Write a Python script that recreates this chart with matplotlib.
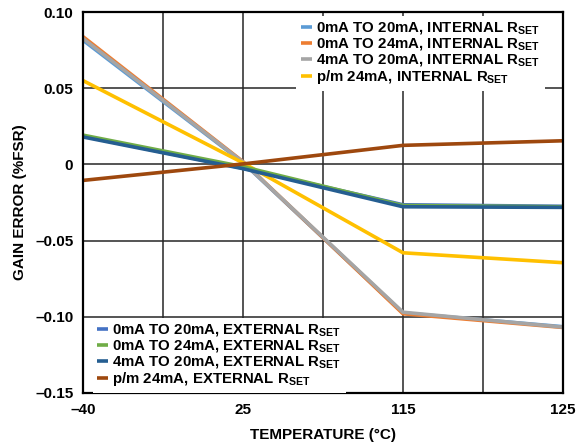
import matplotlib
matplotlib.use("Agg")
import matplotlib.pyplot as plt

plt.rcParams['font.family'] = ['Liberation Sans', 'DejaVu Sans']
plt.rcParams['font.weight'] = 'bold'
plt.rcParams['axes.labelweight'] = 'bold'
plt.rcParams['mathtext.fontset'] = 'custom'
plt.rcParams['mathtext.rm'] = 'Liberation Sans:bold'
plt.rcParams['mathtext.it'] = 'Liberation Sans:bold'
plt.rcParams['mathtext.bf'] = 'Liberation Sans:bold'

# temperatures (deg C), drawn on an evenly spaced category axis
temps = [-40, 25, 115, 125]
pos = [0, 2, 4, 6]

# gain error (%FSR)
int_0_20 = [0.0815, 0.0012, -0.0975, -0.1065]
int_0_24 = [0.0838, 0.0018, -0.0980, -0.1070]
int_4_20 = [0.0826, 0.0015, -0.0970, -0.1068]
int_pm24 = [0.0550, 0.0010, -0.0580, -0.0645]
ext_0_20 = [0.0185, -0.0025, -0.0265, -0.0275]
ext_0_24 = [0.0192, -0.0015, -0.0270, -0.0278]
ext_4_20 = [0.0180, -0.0028, -0.0278, -0.0282]
ext_pm24 = [-0.0105, 0.0003, 0.0125, 0.0155]

rset = r'R$_{\mathrm{SET}}$'
series_int = [
    (int_0_20, '#5b9bd5', '0mA TO 20mA, INTERNAL ' + rset),
    (int_0_24, '#ed7d31', '0mA TO 24mA, INTERNAL ' + rset),
    (int_4_20, '#a5a5a5', '4mA TO 20mA, INTERNAL ' + rset),
    (int_pm24, '#ffc000', 'p/m 24mA, INTERNAL ' + rset),
]
series_ext = [
    (ext_0_20, '#4472c4', '0mA TO 20mA, EXTERNAL ' + rset),
    (ext_0_24, '#70ad47', '0mA TO 24mA, EXTERNAL ' + rset),
    (ext_4_20, '#255e91', '4mA TO 20mA, EXTERNAL ' + rset),
    (ext_pm24, '#9e480e', 'p/m 24mA, EXTERNAL ' + rset),
]

fig = plt.figure(figsize=(5.85, 4.44), dpi=100)
ax = fig.add_axes([83 / 585, 1 - 393 / 444, 480 / 585, 381 / 444])

h_int = []
for vals, col, lab in series_int:
    h, = ax.plot(pos, vals, color=col, lw=2.6, label=lab, solid_capstyle='butt')
    h_int.append(h)
h_ext = []
for vals, col, lab in series_ext:
    h, = ax.plot(pos, vals, color=col, lw=2.6, label=lab, solid_capstyle='butt')
    h_ext.append(h)

ax.set_xlim(0, 6)
ax.set_ylim(-0.15, 0.10)
ax.set_xticks(range(7))
ax.set_xticklabels(['\u201340', '', '25', '', '115', '', '125'])
yt = [-0.15, -0.10, -0.05, 0, 0.05, 0.10]
ax.set_yticks(yt)
ax.set_yticklabels(['\u20130.15', '\u20130.10', '\u20130.05', '0', '0.05', '0.10'])
ax.tick_params(length=0, labelsize=11, pad=7)
ax.grid(True, color='#262626', lw=1.1)
ax.set_axisbelow(True)
for s in ax.spines.values():
    s.set_linewidth(1.6)
    s.set_color('black')

ax.set_xlabel('TEMPERATURE (\u00b0C)', fontsize=11, labelpad=8)
ax.set_ylabel('GAIN ERROR (%FSR)', fontsize=11, labelpad=6)

leg_kw = dict(fontsize=10.8, handlelength=0.72, handletextpad=0.3, labelspacing=0.0,
              borderpad=0.3, borderaxespad=0, frameon=True, fancybox=False, framealpha=1,
              edgecolor='none', facecolor='white')
leg1 = ax.legend(handles=h_int, loc='upper right', bbox_to_anchor=(0.962, 0.99), **leg_kw)
ax.add_artist(leg1)
ax.legend(handles=h_ext, loc='lower left', bbox_to_anchor=(0.02, 0.0), **leg_kw)

fig.savefig('out.png', dpi=100)
